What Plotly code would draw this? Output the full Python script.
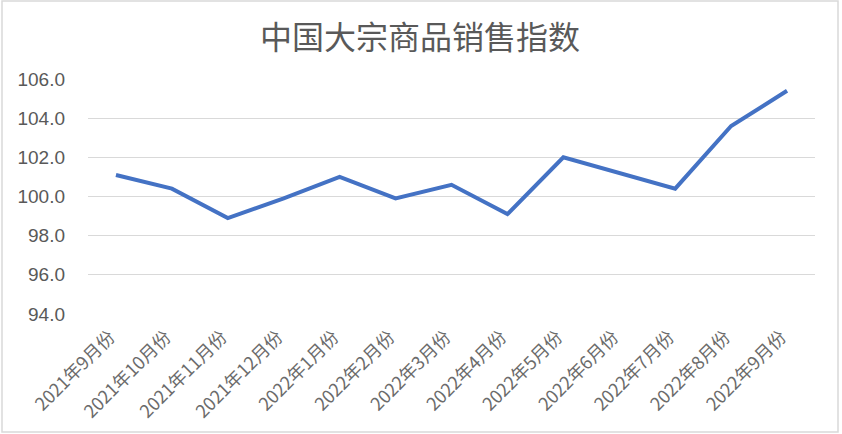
import plotly.graph_objects as go

categories = ["2021年9月份", "2021年10月份", "2021年11月份", "2021年12月份",
              "2022年1月份", "2022年2月份", "2022年3月份", "2022年4月份",
              "2022年5月份", "2022年6月份", "2022年7月份", "2022年8月份",
              "2022年9月份"]
values = [101.1, 100.4, 98.9, 99.9, 101.0, 99.9, 100.6, 99.1, 102.0, 101.2, 100.4, 103.6, 105.4]
y_ticks = [94.0, 96.0, 98.0, 100.0, 102.0, 104.0, 106.0]
title_text = "中国大宗商品销售指数"

W, H = 842, 434
L, R, T, B = 88, 27, 79, 120

fig = go.Figure(go.Scatter(
    x=categories, y=values, mode="lines",
    line=dict(color="#4472C4", width=4),
    hoverinfo="skip",
))

pw = W - L - R
ph = H - T - B
fig.add_shape(type="rect", xref="paper", yref="paper",
              x0=(2 - L) / pw, x1=(838 - L) / pw,
              y0=(H - B - 432) / ph, y1=(H - B - 1) / ph,
              line=dict(color="#D9D9D9", width=1.5), fillcolor="rgba(0,0,0,0)", layer="below")

fig.update_layout(
    width=W, height=H,
    margin=dict(l=L, r=R, t=T, b=B, autoexpand=False),
    paper_bgcolor="white", plot_bgcolor="white",
    font=dict(family="Noto Sans CJK SC", color="#595959"),
    title=dict(text=title_text, x=420 / W, xref="container", xanchor="center",
               y=1 - 38 / H, yanchor="middle",
               font=dict(size=32, color="#595959", family="Noto Sans CJK SC")),
    showlegend=False,
    xaxis=dict(type="category", range=[-0.5, len(categories) - 0.5],
               tickangle=-45, showgrid=False, showline=False, automargin=False,
               ticks="", tickfont=dict(size=18, color="#6b6b6b"), zeroline=False,
               ticklabelstandoff=8, ticklabelshift=-6),
    yaxis=dict(range=[94, 106], tickvals=y_ticks, tickformat=".1f", automargin=False,
               showgrid=True, gridcolor="#D9D9D9", gridwidth=1, zeroline=False,
               showline=False, ticks="", ticklen=0, ticklabelstandoff=22,
               tickfont=dict(size=19, color="#595959", family="Liberation Sans")),
)

fig.write_html("out.html", config={"displayModeBar": False},
               post_script="document.body.style.margin='0';document.body.style.overflow='hidden';")
